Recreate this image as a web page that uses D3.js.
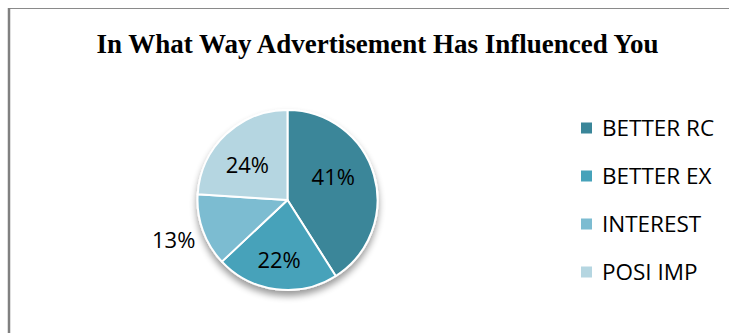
<!DOCTYPE html>
<html>
<head>
<meta charset="utf-8">
<script src="https://cdn.jsdelivr.net/npm/d3@7"></script>
<style>
  html, body { margin: 0; padding: 0; background: #fff; }
  svg { display: block; }
</style>
</head>
<body>
<svg id="chart" width="729" height="333"></svg>
<script>
// Survey responses: how advertising influenced respondents
const categories = ["BETTER RC", "BETTER EX", "INTEREST", "POSI IMP"];
const shares = [41, 22, 13, 24];
const colors = ["#3a8699", "#46a2ba", "#7cbcd1", "#b5d6e1"];
const title = "In What Way Advertisement Has Influenced You";

const svg = d3.select("#chart");
const W = 729, H = 333;

// chart frame (top and left edges visible)
svg.append("line").attr("x1", 8).attr("y1", 8.5).attr("x2", W).attr("y2", 8.5)
  .attr("stroke", "#8a8a8a").attr("stroke-width", 1);
svg.append("line").attr("x1", 9).attr("y1", 8).attr("x2", 9).attr("y2", H)
  .attr("stroke", "#808080").attr("stroke-width", 2.5);

svg.append("text")
  .attr("x", 377.5).attr("y", 53)
  .attr("text-anchor", "middle")
  .attr("font-family", "'Liberation Serif', 'Times New Roman', serif")
  .attr("font-weight", "bold")
  .attr("font-size", 27)
  .attr("fill", "#000")
  .text(title);

const cx = 287.5, cy = 200, r = 90;

const defs = svg.append("defs");
const shadow = defs.append("filter").attr("id", "pieShadow")
  .attr("x", "-20%").attr("y", "-20%").attr("width", "140%").attr("height", "150%");
shadow.append("feGaussianBlur").attr("in", "SourceAlpha").attr("stdDeviation", 3.5).attr("result", "b");
shadow.append("feOffset").attr("in", "b").attr("dx", 0).attr("dy", 5).attr("result", "o");
shadow.append("feComponentTransfer").attr("in", "o").attr("result", "s")
  .append("feFuncA").attr("type", "linear").attr("slope", 0.4);
const merge = shadow.append("feMerge");
merge.append("feMergeNode").attr("in", "s");
merge.append("feMergeNode").attr("in", "SourceGraphic");

const pie = d3.pie().sort(null).value(d => d)(shares);
const arc = d3.arc().innerRadius(0).outerRadius(r);

const g = svg.append("g").attr("transform", `translate(${cx},${cy})`);
g.append("g").attr("filter", "url(#pieShadow)")
  .selectAll("path").data(pie).join("path")
  .attr("d", arc)
  .attr("fill", (d, i) => colors[i])
  .attr("stroke", "#fff").attr("stroke-width", 2)
  .attr("stroke-linejoin", "round");

// label placement: radius as a fraction of r, plus a small angular shift (degrees);
// the small slice gets its label outside the pie
const labelR = [0.57, 0.67, 1.34, 0.59];
const labelShift = [-10.6, 0.8, 0.5, -6];
g.selectAll("text.pct").data(pie).join("text")
  .attr("class", "pct")
  .attr("transform", (d, i) => {
    const a = (d.startAngle + d.endAngle) / 2 + labelShift[i] * Math.PI / 180;
    const rr = r * labelR[i];
    return `translate(${Math.sin(a) * rr},${-Math.cos(a) * rr})`;
  })
  .attr("text-anchor", "middle")
  .attr("dy", "0.36em")
  .attr("font-family", "'Open Sans', sans-serif")
  .attr("font-size", 22)
  .attr("fill", "#000")
  .text(d => d.data + "%");

const legend = svg.append("g").attr("transform", "translate(581,128)");
const rows = legend.selectAll("g").data(categories).join("g")
  .attr("transform", (d, i) => `translate(0,${i * 48})`);
rows.append("rect").attr("x", 0).attr("y", -5.5).attr("width", 11).attr("height", 11)
  .attr("fill", (d, i) => colors[i]);
rows.append("text").attr("x", 21).attr("y", 0).attr("dy", "0.36em")
  .attr("font-family", "'Open Sans', sans-serif")
  .attr("font-size", 22.5)
  .attr("fill", "#000")
  .text(d => d);
</script>
</body>
</html>
